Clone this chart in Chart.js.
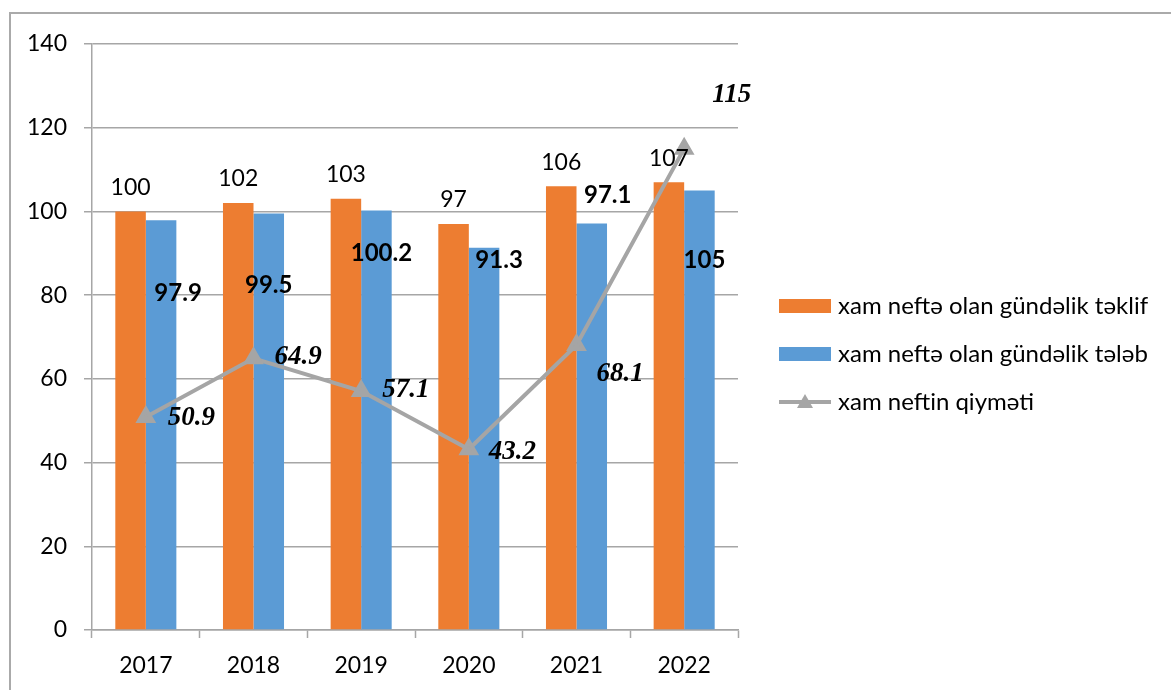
<!DOCTYPE html>
<html>
<head>
<meta charset="utf-8">
<script src="https://cdn.jsdelivr.net/npm/chart.js@4.4.0/dist/chart.umd.min.js"></script>
<style>
  html, body { margin: 0; padding: 0; background: #fff; }
  #wrap { width: 1171px; height: 690px; }
</style>
</head>
<body>
<div id="wrap"><canvas id="oilChart" width="1171" height="690"></canvas></div>
<script>
// données
const years = ['2017', '2018', '2019', '2020', '2021', '2022'];
const supply = [100, 102, 103, 97, 106, 107];
const demand = [97.9, 99.5, 100.2, 91.3, 97.1, 105];
const price = [50.9, 64.9, 57.1, 43.2, 68.1, 115];
const seriesNames = [
  'xam neftə olan gündəlik təklif',
  'xam neftə olan gündəlik tələb',
  'xam neftin qiyməti'
];
const yMin = 0, yMax = 140, yStep = 20;

const ORANGE = '#ED7D31';
const BLUE = '#5B9BD5';
const GRAY = '#A5A5A5';
const AXIS = '#A6A6A6';
const FONT = 'Lato, "Open Sans", sans-serif';

// décalages des étiquettes (px), comme dans le graphique d'origine
const demandLabelShift = [[17, 73], [0, 72], [5, 43], [15, 12], [16, -28], [5, 70]];
const priceLabelShift = [[22, 1], [21, -1], [21, -1], [20, 3], [20, 29], [28, -54]];

// cadre gris autour de l'image
const framePlugin = {
  id: 'frame',
  beforeDraw(chart) {
    const ctx = chart.ctx;
    ctx.save();
    ctx.strokeStyle = '#AAAAAA';
    ctx.lineWidth = 2;
    ctx.strokeRect(10, 13, chart.width + 20, chart.height + 20);
    ctx.restore();
  }
};

// étiquettes de valeurs
const valueLabels = {
  id: 'valueLabels',
  afterDatasetsDraw(chart) {
    const ctx = chart.ctx;
    ctx.save();
    ctx.fillStyle = '#000';
    ctx.textBaseline = 'middle';

    // offre: au-dessus des barres
    ctx.font = '23px ' + FONT;
    ctx.textAlign = 'center';
    chart.getDatasetMeta(0).data.forEach((bar, i) => {
      ctx.fillText(String(supply[i]), bar.x, bar.y - 24);
    });

    // demande: gras
    ctx.font = 'bold 24px ' + FONT;
    chart.getDatasetMeta(1).data.forEach((bar, i) => {
      const [dx, dy] = demandLabelShift[i];
      ctx.fillText(String(demand[i]), bar.x + dx, bar.y + dy);
    });

    // prix: italique serif
    ctx.font = 'italic bold 27px "Liberation Serif", "DejaVu Serif", serif';
    ctx.textAlign = 'left';
    chart.getDatasetMeta(2).data.forEach((pt, i) => {
      const [dx, dy] = priceLabelShift[i];
      ctx.fillText(String(price[i]), pt.x + dx, pt.y + dy);
    });
    ctx.restore();
  }
};

// légende à droite
const sideLegend = {
  id: 'sideLegend',
  afterDraw(chart) {
    const ctx = chart.ctx;
    const x0 = 779, w = 52, textX = 838;
    const rows = [306, 354, 402];
    ctx.save();
    chart.data.datasets.forEach((ds, i) => {
      const y = rows[i];
      if (ds.type === 'line') {
        ctx.strokeStyle = GRAY;
        ctx.lineWidth = 4;
        ctx.beginPath();
        ctx.moveTo(x0, y);
        ctx.lineTo(x0 + w, y);
        ctx.stroke();
        ctx.fillStyle = GRAY;
        ctx.beginPath();
        ctx.moveTo(x0 + w / 2, y - 8);
        ctx.lineTo(x0 + w / 2 + 8, y + 6);
        ctx.lineTo(x0 + w / 2 - 8, y + 6);
        ctx.closePath();
        ctx.fill();
      } else {
        ctx.fillStyle = ds.backgroundColor;
        ctx.fillRect(x0, y - 7, w, 14);
      }
      ctx.fillStyle = '#000';
      ctx.font = '24px ' + FONT;
      ctx.textAlign = 'left';
      ctx.textBaseline = 'middle';
      ctx.fillText(ds.label, textX, y);
    });
    ctx.restore();
  }
};

new Chart(document.getElementById('oilChart').getContext('2d'), {
  data: {
    labels: years,
    datasets: [
      {
        type: 'bar',
        label: seriesNames[0],
        data: supply,
        backgroundColor: ORANGE,
        order: 2
      },
      {
        type: 'bar',
        label: seriesNames[1],
        data: demand,
        backgroundColor: BLUE,
        order: 3
      },
      {
        type: 'line',
        label: seriesNames[2],
        data: price,
        borderColor: GRAY,
        backgroundColor: GRAY,
        borderWidth: 4,
        pointStyle: 'triangle',
        pointRadius: 8,
        pointBackgroundColor: GRAY,
        pointBorderColor: GRAY,
        tension: 0,
        order: 1
      }
    ]
  },
  options: {
    responsive: false,
    animation: false,
    layout: { padding: { left: 0, top: 44, right: 433, bottom: 0 } },
    datasets: {
      bar: { categoryPercentage: 0.567, barPercentage: 1.0 }
    },
    plugins: {
      legend: { display: false },
      tooltip: { enabled: false }
    },
    scales: {
      x: {
        type: 'category',
        offset: true,
        grid: {
          offset: true,
          drawOnChartArea: false,
          drawTicks: true,
          tickLength: 8,
          tickColor: AXIS,
          tickWidth: 1.5
        },
        border: { color: AXIS, width: 1.5 },
        ticks: {
          color: '#000',
          font: { family: FONT, size: 23 },
          padding: 14
        },
        afterFit(scale) { scale.height = 60; }
      },
      y: {
        min: yMin,
        max: yMax,
        grid: {
          color: AXIS,
          lineWidth: 1.5,
          drawTicks: true,
          tickLength: 8
        },
        border: { color: AXIS, width: 1.5 },
        ticks: {
          stepSize: yStep,
          color: '#000',
          font: { family: FONT, size: 23 },
          padding: 17
        },
        afterFit(scale) { scale.width = 92; }
      }
    }
  },
  plugins: [framePlugin, valueLabels, sideLegend]
});
</script>
</body>
</html>
